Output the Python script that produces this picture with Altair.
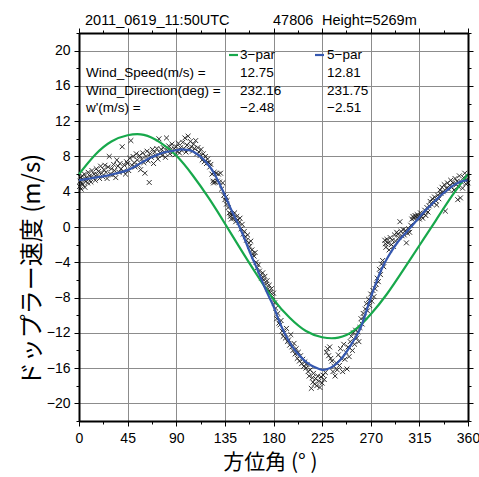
import altair as alt
import pandas as pd

# ---- observed Doppler velocities (azimuth in degrees, velocity in m/s) ----
obs_azimuth = [
    0.5, 1, 1.5, 2, 2.5, 3, 3.5, 4, 5, 5.5, 6, 7, 8, 8.5, 9, 10, 11, 12, 13, 14,
    15, 16, 17, 18, 19, 20, 21, 22, 23, 24, 25, 26, 27, 28, 29, 30, 31, 32, 33, 34,
    35, 36, 37, 38, 39, 40, 41, 42, 43, 44,
    45, 46, 47, 48, 49, 50, 51, 52, 53, 54, 55, 56, 57, 58, 59, 60, 61, 62, 63, 64,
    65, 66, 67, 68, 69, 70, 71, 72, 73, 74, 75, 76, 77, 78, 79, 80, 81, 82, 83, 84,
    85, 86, 87, 88, 89, 90,
    91, 92, 93, 94, 95, 96, 97, 98, 99, 100, 101, 102, 103, 104, 105, 106, 107, 108, 109, 110,
    111, 112, 113, 114, 115, 116, 117, 118, 119, 120, 121, 122, 123, 124, 124.5, 125, 126, 127, 128, 129,
    130, 131, 132, 133, 134, 135,
    136, 136.5, 137, 138, 139, 140, 140.5, 141, 142, 143, 144, 145, 146, 147, 148, 149, 150, 151, 152, 153,
    154, 155, 156, 157, 158, 159, 160, 161, 162, 163, 164, 165, 166, 167, 168, 169, 170, 171, 172, 173,
    174, 175, 176, 177, 178, 179, 180,
    181, 182, 183, 184, 185, 186, 187, 188, 189, 190, 191, 192, 193, 194, 195, 196, 197, 198, 199, 200,
    201, 202, 203, 204, 205, 206, 207, 208, 209, 210, 211, 212, 213, 214, 215, 216, 216.5, 217, 218, 219,
    220, 221, 222, 223, 224, 225, 226, 227, 228, 229, 230,
    231, 232, 233, 234, 235, 236, 237, 238, 239, 240, 241, 242, 243, 244, 245, 246, 247, 248, 249, 250,
    251, 252, 253, 254, 255, 256, 257, 258, 259, 260, 261, 262, 263, 264,
    265, 266, 267, 268, 269, 270, 271, 272, 273, 274, 275, 276, 277, 278, 279, 280, 281, 282, 283, 283.5,
    284, 285, 286, 287, 288, 289, 290, 291, 292, 293, 294,
    295, 296, 297, 298, 299, 300, 301, 302, 303, 304, 305, 306, 307, 308, 309, 310, 311, 312, 313, 314,
    315, 316, 317, 318, 319, 320, 321, 322, 323, 324, 325, 326, 327, 328, 329, 330, 331, 332, 333, 334,
    335, 336, 337, 338, 339, 340, 341, 342, 343, 344, 345, 346, 347, 348, 349, 350, 350.5, 351, 352, 353,
    354, 355, 356, 357, 358, 359, 360,
]
obs_velocity = [
    4.6, 5.2, 5.6, 4.3, 5.0, 5.8, 4.8, 5.4, 6.0, 4.5, 5.2, 5.6, 5.0, 6.2, 5.4, 5.8, 5.1, 6.4, 5.6, 6.0,
    5.3, 6.6, 5.9, 6.3, 5.5, 6.9, 6.1, 5.7, 6.5, 7.0, 6.2, 5.5, 6.8, 8.0, 6.0, 6.6, 5.9, 7.1, 6.4, 5.6,
    7.6, 6.9, 6.2, 7.2, 6.6, 9.1, 6.3, 7.0, 6.0, 7.4,
    7.2, 6.4, 7.8, 9.8, 7.0, 8.0, 7.3, 6.8, 8.3, 7.6, 7.0, 8.1, 6.5, 7.7, 8.4, 7.3, 6.1, 8.0, 8.6, 7.5,
    5.05, 8.3, 7.9, 8.8, 7.2, 8.5, 8.1, 8.9, 7.7, 10.0, 8.4, 8.8, 8.1, 9.0, 8.5, 7.9, 10.1, 8.7, 9.2, 8.3,
    8.8, 9.4, 8.5, 8.9, 8.2, 9.1,
    8.6, 9.5, 8.4, 9.0, 8.7, 9.6, 8.9, 10.1, 8.5, 9.3, 10.3, 8.8, 9.7, 9.1, 8.6, 9.4, 8.9, 9.8, 8.3, 9.0,
    8.5, 8.1, 8.8, 7.6, 8.3, 7.4, 8.0, 7.2, 7.7, 7.3, 6.8, 7.1, 6.0, 5.2, 5.0, 6.2, 5.1, 6.1, 5.2, 6.0,
    5.1, 6.1, 4.3, 5.0, 3.6, 3.1,
    3.4, 2.6, 3.0, 2.2, 1.6, 1.2, 1.5, 0.9, 1.4, 1.0, 1.6, 0.6, 1.2, 0.8, 0.5, 1.0, -0.2, 0.3, -0.8, -0.5,
    -1.1, -1.5, -0.9, -1.8, -2.2, -1.6, -2.6, -3.0, -3.3, -2.9, -4.0, -4.6, -4.3, -5.0, -5.4, -5.8, -5.2, -6.0, -5.6, -6.5,
    -6.1, -7.0, -6.6, -7.4, -7.0, -7.9, -7.5,
    -8.6, -9.2, -10.4, -9.8, -10.9, -11.1, -10.6, -11.8, -12.4, -12.0, -12.6, -11.5, -13.0, -12.8, -13.4, -12.2, -13.6, -14.0, -13.2, -14.4,
    -13.8, -14.9, -14.2, -15.2, -14.6, -15.5, -15.0, -15.8, -15.3, -16.0, -15.6, -16.4, -16.9, -16.2, -18.3, -17.1, -17.6, -16.6, -17.8, -17.2,
    -18.0, -16.9, -17.5, -18.2, -17.0, -17.7, -16.8, -17.3, -16.5, -14.2, -13.8,
    -14.6, -13.6, -14.9, -15.2, -16.4, -15.8, -16.9, -15.4, -16.2, -14.5, -15.7, -13.8, -14.9, -16.4, -13.3, -15.0, -14.2, -16.1, -13.6, -14.7,
    -13.0, -12.4, -14.0, -12.0, -13.3, -11.7, -12.6, -11.9, -13.0, -11.4, -10.4, -11.0, -9.8, -10.2,
    -9.3, -8.7, -9.5, -8.2, -8.9, -7.6, -8.4, -7.2, -7.9, -7.0, -6.5, -5.8, -6.2, -4.8, -5.4, -4.2, -3.8, -4.5, -1.5, -1.9,
    -2.3, -1.4, -1.8, -2.6, -1.2, -2.0, -1.5, -2.2, -0.9, -1.6, -0.6,
    -0.8, -1.2, 0.6, -0.5, -1.0, -0.3, -0.9, -0.4, -1.8, -0.7, -0.2, -0.6, 0.2, 0.9, 1.2, 1.0, 1.3, 1.1, 1.4, 1.2,
    0.9, 1.6, 1.2, 1.0, 1.5, 1.9, 1.3, 2.2, 1.7, 2.4, 2.9, 2.6, 3.2, 2.8, 3.4, 3.0, 2.5, 3.6, 3.2, 4.2,
    3.8, 4.5, 4.0, 4.8, 1.8, 4.4, 5.0, 4.3, 4.7, 5.3, 4.5, 5.0, 4.2, 5.5, 4.8, 5.2, 3.1, 4.6, 5.8, 3.3,
    5.1, 4.4, 5.6, 6.1, 4.9, 5.4, 5.0,
]

# ---- 3-parameter fit curve ----
fit3_azimuth = [0, 15, 30, 45, 60, 75, 90, 105, 120, 135, 150, 165, 180,
                195, 210, 225, 240, 255, 270, 285, 300, 315, 330, 345, 360]
fit3_velocity = [6.0, 8.2, 9.7, 10.4, 10.45, 9.6, 8.1, 5.9, 3.3, 0.4, -2.6, -5.5, -8.2,
                 -10.3, -11.8, -12.5, -12.55, -11.7, -9.9, -7.6, -4.9, -2.1, 0.7, 3.5, 6.0]

# ---- 5-parameter fit curve ----
fit5_azimuth = list(range(0, 361, 5))
fit5_velocity = [5.3, 5.4, 5.5, 5.6, 5.7, 5.8, 5.95, 6.1, 6.25, 6.45, 6.75, 7.1, 7.45,
                 7.8, 8.05, 8.3, 8.5, 8.6, 8.7, 8.8, 8.75, 8.6, 8.2, 7.7, 7.0, 6.1,
                 4.9, 3.6, 2.2, 0.9, -0.4, -1.9, -3.4, -4.8, -6.3, -7.7, -9.0, -10.6,
                 -12.0, -13.1, -14.0, -14.7, -15.3, -15.7, -16.0, -16.2, -16.1, -15.8,
                 -15.3, -14.6, -13.7, -12.7, -11.6, -9.9, -8.0, -6.3, -4.8, -3.6, -2.6,
                 -1.7, -1.0, -0.3, 0.4, 1.1, 1.8, 2.4, 3.0, 3.6, 4.1, 4.6, 4.95, 5.2, 5.3]

# ---- header, axis titles and fit-result texts ----
header_time = "2011_0619_11:50UTC"
header_station = "47806"
header_height = "Height=5269m"
x_title = "方位角 (° )"
y_title = "ドップラー速度 (m/s)"
series_names = ["3\u2212par", "5\u2212par"]
param_labels = ["Wind_Speed(m/s) =", "Wind_Direction(deg) =", "w'(m/s) ="]
param_fit3 = ["12.75", "232.16", "\u22122.48"]
param_fit5 = ["12.81", "231.75", "\u22122.51"]

GREEN = "#17a84b"
BLUE = "#3558b0"
W, H = 389, 388
FONT = "Liberation Sans"
CJK = "Noto Sans CJK JP"

obs_df = pd.DataFrame({"az": obs_azimuth, "v": obs_velocity})
fit3_df = pd.DataFrame({"az": fit3_azimuth, "v": fit3_velocity})
fit5_df = pd.DataFrame({"az": fit5_azimuth, "v": fit5_velocity})

x_scale = alt.Scale(domain=[0, 360], nice=False, zero=False)
y_scale = alt.Scale(domain=[-22, 22], nice=False, zero=False)

x_ticks = [i * 22.5 for i in range(17)]
y_ticks = list(range(-22, 23, 2))

x_major = "datum.value % 45 === 0"
y_major = "datum.value % 4 === 0"


def tick_size(test):
    return {"condition": {"test": test, "value": 5}, "value": 3}


x_bottom = alt.Axis(
    values=x_ticks, format="d", orient="bottom",
    labelExpr=f"{x_major} ? datum.label : ''",
    grid=True, gridColor="#8c8c8c", gridWidth=1,
    gridOpacity={"condition": {"test": x_major, "value": 1}, "value": 0},
    tickSize=tick_size(x_major), tickColor="black", tickWidth=1,
    domainColor="black", domainWidth=2,
    labelFont=FONT, labelFontSize=14, labelColor="black", labelPadding=5,
    labelFlush=False,
    title=x_title, titleFont=CJK, titleFontSize=21, titleFontWeight="normal",
    titleColor="black", titlePadding=6, titleX=191,
)
y_left = alt.Axis(
    values=y_ticks, format="d", orient="left",
    labelExpr=f"{y_major} ? datum.label : ''",
    grid=True, gridColor="#8c8c8c", gridWidth=1,
    gridOpacity={"condition": {"test": y_major, "value": 1}, "value": 0},
    tickSize=tick_size(y_major), tickColor="black", tickWidth=1,
    domainColor="black", domainWidth=2,
    labelFont=FONT, labelFontSize=14, labelColor="black", labelPadding=4,
    labelFlush=False, title=None,
)
x_top = alt.Axis(
    values=x_ticks, orient="top", labels=False, grid=False, title=None,
    tickSize=tick_size(x_major), tickColor="black", tickWidth=1,
    domainColor="black", domainWidth=2, zindex=1,
)
y_right = alt.Axis(
    values=y_ticks, orient="right", labels=False, grid=False, title=None,
    tickSize=tick_size(y_major), tickColor="black", tickWidth=1,
    domainColor="black", domainWidth=2, zindex=1,
)

cross = "M-1,-1L1,1M-1,1L1,-1"

scatter = alt.Chart(obs_df).mark_point(
    shape=cross, filled=False, size=24, stroke="#1a1a1a", strokeWidth=1.0, opacity=0.9
).encode(
    x=alt.X("az:Q", scale=x_scale, axis=x_bottom),
    y=alt.Y("v:Q", scale=y_scale, axis=y_left),
)

fit3_line = alt.Chart(fit3_df).mark_line(
    color=GREEN, strokeWidth=2.2, interpolate="natural"
).encode(
    x=alt.X("az:Q", scale=x_scale, axis=x_top),
    y=alt.Y("v:Q", scale=y_scale, axis=y_right),
)

fit5_line = alt.Chart(fit5_df).mark_line(
    color=BLUE, strokeWidth=2.2, interpolate="natural"
).encode(
    x=alt.X("az:Q", scale=x_scale, axis=None),
    y=alt.Y("v:Q", scale=y_scale, axis=None),
)


def label(text, x, y, align="left", size=13.5, font=FONT, angle=0):
    return alt.Chart(pd.DataFrame({"t": [text]})).mark_text(
        align=align, baseline="middle", font=font, fontSize=size, color="black",
        angle=angle,
    ).encode(x=alt.value(x), y=alt.value(y), text="t:N")


def swatch(color, x, y):
    return alt.Chart(pd.DataFrame({"t": [0]})).mark_rule(
        color=color, strokeWidth=2.2
    ).encode(x=alt.value(x), x2=alt.value(x + 9), y=alt.value(y))


annotations = [
    label(header_time, 6, -12, size=14.5),
    label(header_station, 194, -12, size=14.5),
    label(header_height, 243, -12, size=14.5),
    label(y_title, -46, 237, align="center", size=24, font=CJK, angle=270),
    swatch(GREEN, 150, 22),
    label(series_names[0], 161, 22),
    swatch(BLUE, 236, 22),
    label(series_names[1], 248, 22),
]
for i, (name, v3, v5) in enumerate(zip(param_labels, param_fit3, param_fit5)):
    yy = 40 + 17.7 * i
    annotations += [label(name, 7, yy), label(v3, 161, yy), label(v5, 248, yy)]

chart = alt.layer(
    scatter, fit3_line, fit5_line, *annotations
).resolve_axis(
    x="independent", y="independent"
).properties(
    width=W, height=H,
    autosize=alt.AutoSizeParams(type="none"),
    padding={"left": 79, "top": 33, "right": 11, "bottom": 56},
).configure_view(
    stroke="black", strokeWidth=2
).configure(background="white")

chart.save("out.html", embed_options={"renderer": "svg", "actions": False})
